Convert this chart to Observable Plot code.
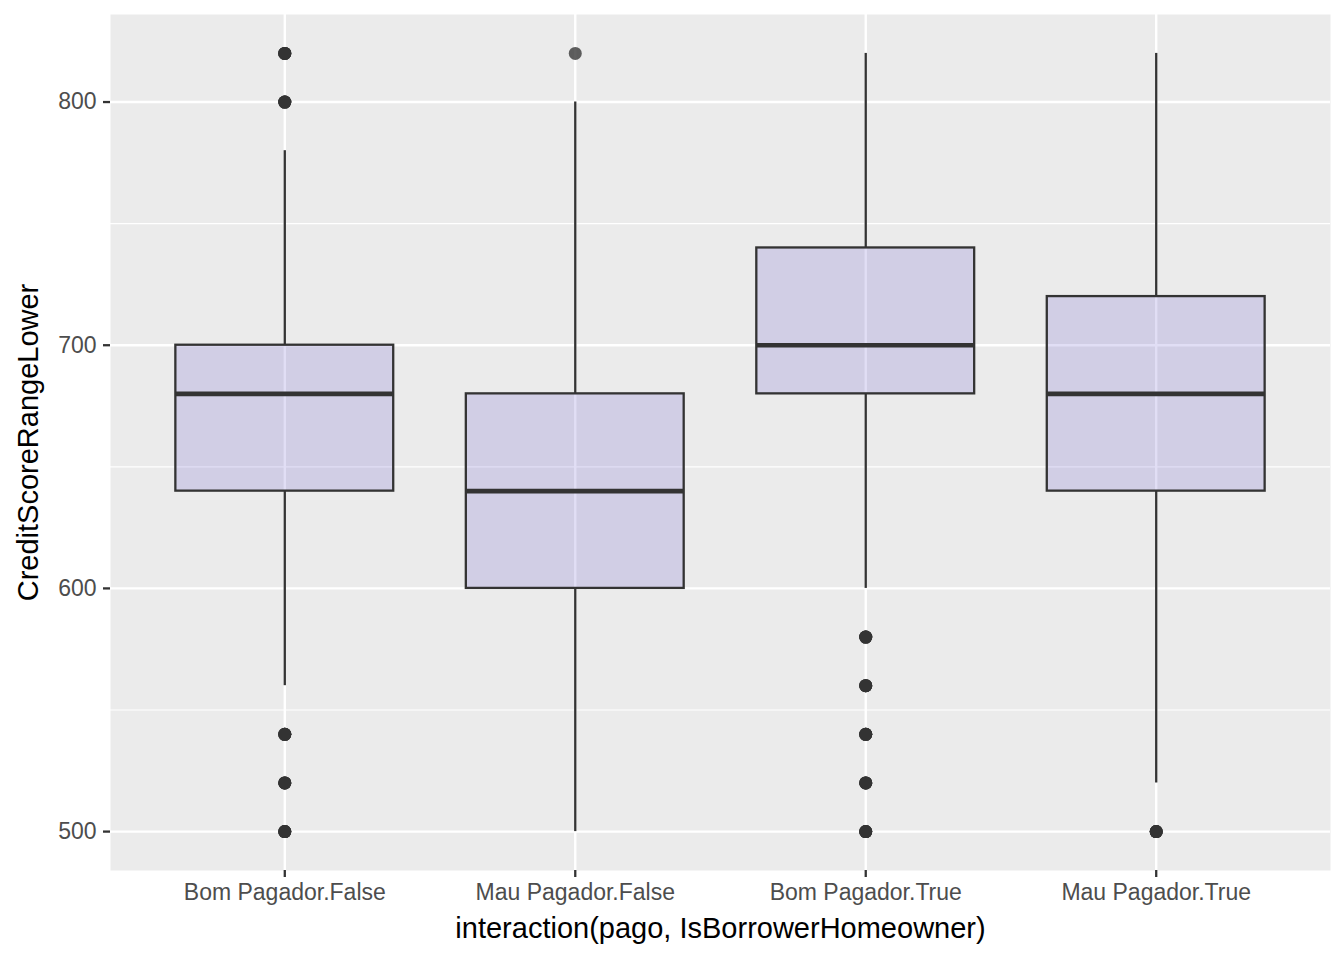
<!DOCTYPE html>
<html>
<head>
<meta charset="utf-8">
<script src="https://cdn.jsdelivr.net/npm/d3@7"></script>
<script src="https://cdn.jsdelivr.net/npm/@observablehq/plot@0.6"></script>
<style>
  html, body { margin: 0; padding: 0; background: #fff; }
  #chart svg { display: block; }
</style>
</head>
<body>
<div id="chart"></div>
<script>
// ---- data ----
const groups = ["Bom Pagador.False", "Mau Pagador.False", "Bom Pagador.True", "Mau Pagador.True"];
const lowerWhisker = [560, 500, 600, 520];
const q1 = [640, 600, 680, 640];
const median = [680, 640, 700, 680];
const q3 = [700, 680, 740, 720];
const upperWhisker = [780, 800, 820, 820];
// outliers: group, value, number of overlapping observations
const outlierGroup = ["Bom Pagador.False","Bom Pagador.False","Bom Pagador.False","Bom Pagador.False","Bom Pagador.False",
                      "Mau Pagador.False",
                      "Bom Pagador.True","Bom Pagador.True","Bom Pagador.True","Bom Pagador.True","Bom Pagador.True",
                      "Mau Pagador.True"];
const outlierValue = [820, 800, 540, 520, 500, 820, 580, 560, 540, 520, 500, 500];
const outlierCount = [5, 5, 5, 5, 5, 1, 5, 5, 5, 5, 5, 5];
const yTicks = [500, 600, 700, 800];
const yMinor = [550, 650, 750];
const xTitle = "interaction(pago, IsBorrowerHomeowner)";
const yTitle = "CreditScoreRangeLower";

// ---- build tables ----
const boxes = groups.map((g, k) => ({
  g, i: k + 1, lo: lowerWhisker[k], q1: q1[k], med: median[k], q3: q3[k], hi: upperWhisker[k]
}));
const outliers = outlierValue.flatMap((v, k) =>
  d3.range(outlierCount[k]).map(() => ({ i: groups.indexOf(outlierGroup[k]) + 1, v })));

const halfW = 0.375;
const ink = "#333333";
const font = "Liberation Sans, Arial, Helvetica, sans-serif";

const chart = Plot.plot({
  width: 1344,
  height: 960,
  marginLeft: 110,
  marginRight: 14,
  marginTop: 14,
  marginBottom: 90,
  style: { fontFamily: font, background: "#ffffff", overflow: "visible" },
  x: { domain: [0.4, 4.6], axis: null },
  y: { domain: [484, 836], axis: null },
  marks: [
    Plot.frame({ fill: "#EBEBEB", stroke: null }),
    Plot.gridY(yMinor, { stroke: "#ffffff", strokeOpacity: 1, strokeWidth: 1.2 }),
    Plot.gridY(yTicks, { stroke: "#ffffff", strokeOpacity: 1, strokeWidth: 2.4 }),
    Plot.gridX(boxes.map(d => d.i), { stroke: "#ffffff", strokeOpacity: 1, strokeWidth: 2.4 }),
    // whiskers
    Plot.ruleX(boxes, { x: "i", y1: "q3", y2: "hi", stroke: ink, strokeWidth: 2.3 }),
    Plot.ruleX(boxes, { x: "i", y1: "lo", y2: "q1", stroke: ink, strokeWidth: 2.3 }),
    // boxes
    Plot.rect(boxes, {
      x1: d => d.i - halfW, x2: d => d.i + halfW, y1: "q1", y2: "q3",
      fill: "slateblue", fillOpacity: 0.2, stroke: ink, strokeWidth: 2.3
    }),
    // medians
    Plot.ruleY(boxes, { y: "med", x1: d => d.i - halfW, x2: d => d.i + halfW, stroke: ink, strokeWidth: 4.6 }),
    // outliers
    Plot.dot(outliers, { x: "i", y: "v", r: 6.5, fill: ink, fillOpacity: 0.78, stroke: null }),
    // axes
    Plot.axisY(yTicks, {
      anchor: "left", tickSize: 7, tickPadding: 7, strokeWidth: 2.3, stroke: ink,
      fill: "#4D4D4D", fontSize: 23, label: null
    }),
    Plot.axisX(boxes.map(d => d.i), {
      anchor: "bottom", tickSize: 7, tickPadding: 6, strokeWidth: 2.3, stroke: ink,
      fill: "#4D4D4D", fontSize: 23, label: null, tickFormat: i => groups[i - 1]
    }),
    // axis titles
    Plot.text([xTitle], { frameAnchor: "bottom", dy: 58, fontSize: 29, fill: "#000", lineAnchor: "middle", textAnchor: "middle" }),
    Plot.text([yTitle], { frameAnchor: "left", dx: -82, rotate: -90, fontSize: 29, fill: "#000", lineAnchor: "middle", textAnchor: "middle" })
  ]
});
document.getElementById("chart").appendChild(chart);
</script>
</body>
</html>
